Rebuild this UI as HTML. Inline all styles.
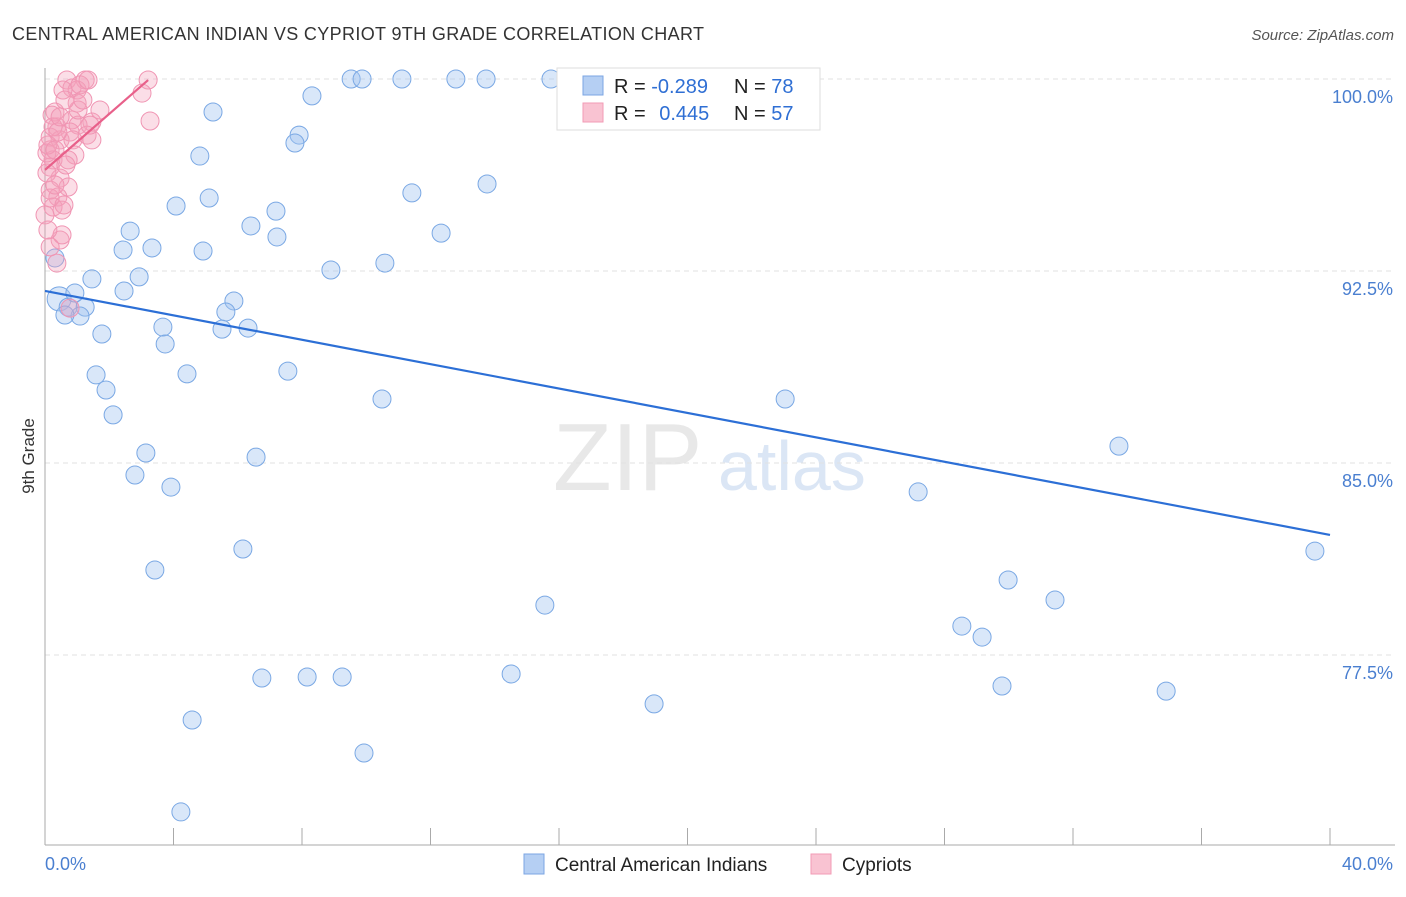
<!DOCTYPE html>
<html><head><meta charset="utf-8"><style>
body{margin:0;background:#fff;font-family:"Liberation Sans",sans-serif}
svg text{font-family:"Liberation Sans",sans-serif}
</style></head><body>
<svg width="1406" height="892" viewBox="0 0 1406 892" xmlns="http://www.w3.org/2000/svg">
<text x="12" y="40" font-size="18" fill="#333" textLength="692">CENTRAL AMERICAN INDIAN VS CYPRIOT 9TH GRADE CORRELATION CHART</text>
<text x="1394" y="40" font-size="15" fill="#555" text-anchor="end" font-style="italic">Source: ZipAtlas.com</text>
<text x="553" y="490" font-size="96" fill="#e8e8e8" font-family="Liberation Serif">ZIP</text>
<text x="718" y="490" font-size="70" fill="#dbe6f5">atlas</text>
<g id="grid"></g><g id="axes"></g><g id="pts"></g><g id="lines"></g>
<text transform="translate(34,456) rotate(-90)" font-size="17" fill="#333" text-anchor="middle">9th Grade</text>
<g>
<rect x="557" y="68" width="263" height="62" fill="#fff" stroke="#ddd"/>
<rect x="583" y="76" width="20" height="19" fill="#b5cff3" stroke="#7ba6e3"/>
<rect x="583" y="103" width="20" height="19" fill="#f9c3d2" stroke="#f29bb5"/>
<text x="614" y="93" font-size="20" fill="#222">R = <tspan fill="#2f6fd4">-0.289</tspan></text>
<text x="734" y="93" font-size="20" fill="#222">N = <tspan fill="#2f6fd4">78</tspan></text>
<text x="614" y="120" font-size="20" fill="#222">R = <tspan fill="#2f6fd4" dx="8">0.445</tspan></text>
<text x="734" y="120" font-size="20" fill="#222">N = <tspan fill="#2f6fd4">57</tspan></text>
</g>
<g>
<rect x="524" y="854" width="20" height="20" fill="#b5cff3" stroke="#7ba6e3"/>
<text x="555" y="871" font-size="19" fill="#222">Central American Indians</text>
<rect x="811" y="854" width="20" height="20" fill="#f9c3d2" stroke="#f29bb5"/>
<text x="842" y="871" font-size="19" fill="#222">Cypriots</text>
</g>
<text x="45" y="870" font-size="18" fill="#4a7fd0">0.0%</text>
<text x="1393" y="870" font-size="18" fill="#4a7fd0" text-anchor="end">40.0%</text>
</svg>
<script>
const yTicks=[100,92.5,85,77.5];
const yTickLabels=["100.0%","92.5%","85.0%","77.5%"];
const blueX=[0.44,0.72,1.25,1.09,0.62,0.93,1.46,1.77,1.59,1.90,2.12,2.43,2.65,2.93,2.46,3.33,3.67,3.74,3.14,2.80,3.92,4.08,4.42,4.82,5.11,4.92,5.23,5.88,5.63,5.51,6.32,6.41,7.22,7.19,7.91,7.78,8.31,7.56,6.57,6.16,3.42,6.75,8.16,9.25,4.58,4.23,8.90,9.93,10.49,10.58,9.53,9.87,11.11,12.79,13.73,15.75,11.42,12.33,13.76,15.56,14.51,18.96,22.26,23.04,27.18,28.54,29.17,29.98,31.44,29.79,33.43,34.90,39.53,0.31,17.43];
const blueY=[91.41,91.09,91.09,90.74,90.78,91.64,92.19,90.04,88.44,87.85,86.88,93.32,94.06,92.27,91.72,93.40,90.31,89.65,85.39,84.53,84.06,95.04,88.48,96.99,95.35,93.28,98.71,91.33,90.90,90.23,90.27,94.26,93.83,94.84,97.81,97.50,99.34,88.59,85.23,81.64,80.82,76.60,76.64,76.64,74.96,71.37,92.54,73.67,87.50,92.81,100,100,100,100,100,100,95.55,93.98,95.90,79.45,76.76,75.59,100,87.50,83.87,78.63,78.20,80.43,79.65,76.29,85.66,76.09,81.56,93.01,100];
const pinkX=[0.68,1.25,3.21,0.84,1.00,0.56,3.02,1.00,3.27,0.31,0.84,1.46,0.37,1.03,0.16,0.78,1.31,0.47,0.87,1.46,0.16,0.93,0.25,0.72,0.16,0.47,0.72,0.16,0.40,0.25,0.53,0.47,0.16,0.37,0.78,0.22,0.25,1.03,1.09,0.06,0.06,0.16,0.62,0.40,0.09,0.65,0.31,0.00,0.53,1.40,1.34,1.71,0.31,0.59,0.09,1.18,0.47];
const pinkY=[99.96,99.96,99.96,99.65,99.57,99.57,99.45,99.06,98.36,98.71,98.40,98.32,98.13,98.20,97.73,97.93,97.81,97.62,97.62,97.62,97.23,97.03,96.84,96.84,96.56,96.13,95.78,95.66,95.39,95.00,94.88,93.71,93.44,92.81,91.05,98.59,98.13,98.79,99.77,97.11,96.33,95.35,99.18,97.93,97.42,96.64,95.86,94.69,93.91,98.20,99.96,98.79,97.23,95.08,94.10,99.18,98.52];
const blueTrend=[[0,91.72],[40,82.19]];
const pinkTrend=[[0,96.45],[3.21,99.96]];
const NS='http://www.w3.org/2000/svg';
const X=v=>45+v*(1285/40), Y=v=>79+(100-v)*25.6;
function mk(tag,attrs,parent){const e=document.createElementNS(NS,tag);for(const k in attrs)e.setAttribute(k,attrs[k]);document.getElementById(parent).appendChild(e);return e;}
yTicks.forEach((t,i)=>{
 const l=mk('line',{x1:45,x2:1395,y1:Y(t),y2:Y(t),stroke:'#e2e2e2','stroke-dasharray':'5,4'},'grid');
 
 
 const tx=mk('text',{x:1393,y:Y(t)+24,'font-size':18,fill:'#4a7fd0','text-anchor':'end'},'grid');
 tx.textContent=yTickLabels[i];
 
 
});
const ya=mk('line',{x1:45,x2:45,y1:68,y2:845,stroke:'#aaa'},'axes');


const xa=mk('line',{x1:45,x2:1395,y1:845,y2:845,stroke:'#aaa'},'axes');


for(let v=0;v<=40;v+=4){
 const t=mk('line',{x1:X(v),x2:X(v),y1:828,y2:845,stroke:'#aaa'},'axes');
 
 
}
blueX.forEach((v,i)=>{
 const c=mk('circle',{cx:X(v),cy:Y(blueY[i]),r:i===0?12:9,fill:'rgba(160,196,240,0.4)',stroke:'#7aa8e4','stroke-width':1},'pts');
 
 
});
pinkX.forEach((v,i)=>{
 const c=mk('circle',{cx:X(v),cy:Y(pinkY[i]),r:9,fill:'rgba(244,160,185,0.35)',stroke:'#f095b3','stroke-width':1},'pts');
 
 
});
const bl=mk('line',{x1:X(blueTrend[0][0]),y1:Y(blueTrend[0][1]),x2:X(blueTrend[1][0]),y2:Y(blueTrend[1][1]),stroke:'#2c6fd6','stroke-width':2.2},'lines');


const pl=mk('line',{x1:X(pinkTrend[0][0]),y1:Y(pinkTrend[0][1]),x2:X(pinkTrend[1][0]),y2:Y(pinkTrend[1][1]),stroke:'#e8608a','stroke-width':2.2},'lines');


</script>
</body></html>
